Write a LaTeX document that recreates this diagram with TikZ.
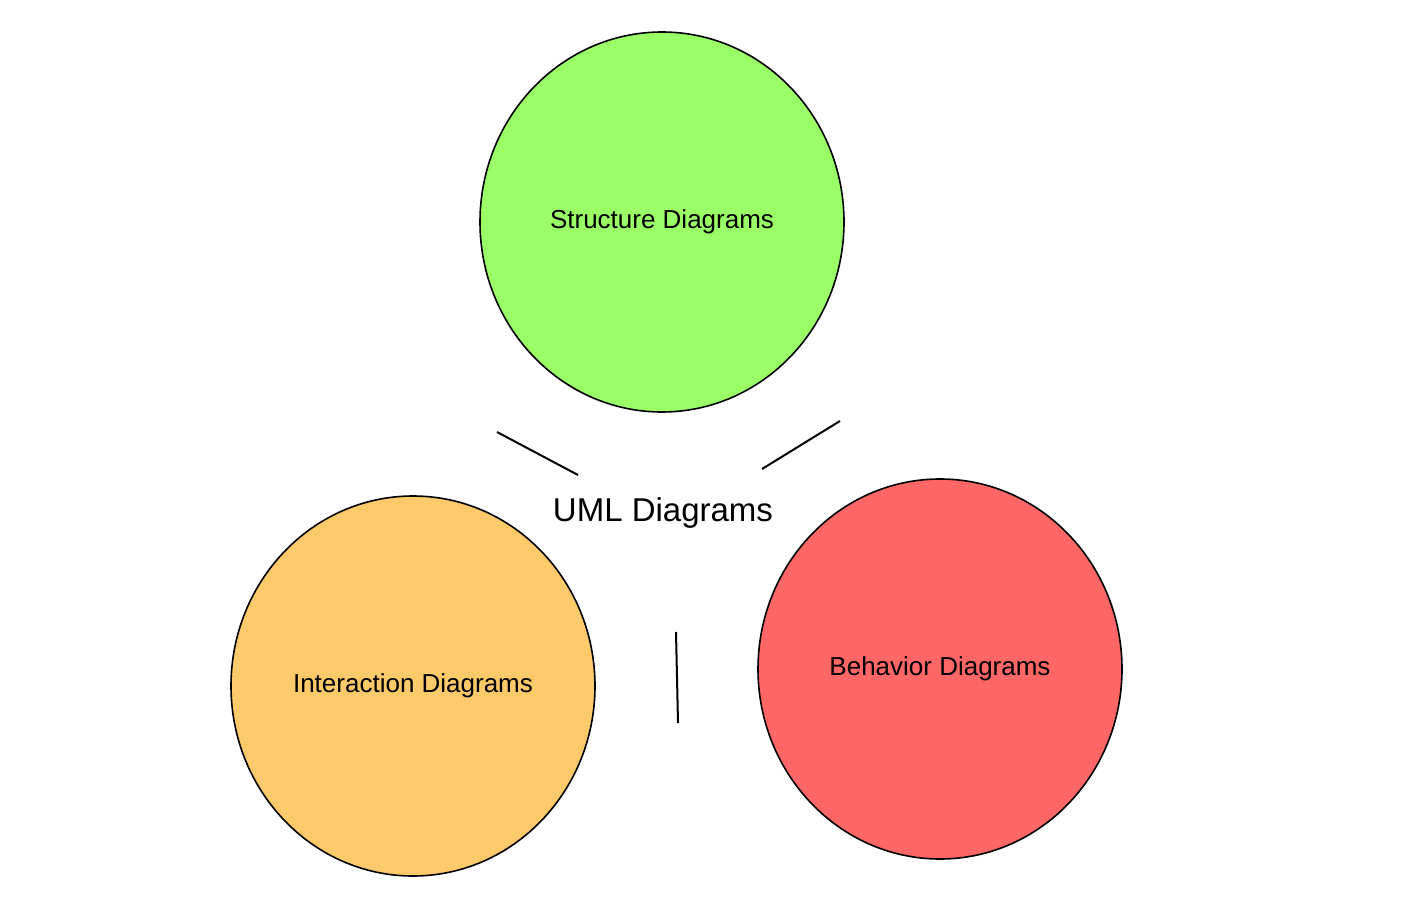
\documentclass[tikz,border=0pt]{standalone}
\usepackage{fontspec}
\setmainfont{Liberation Sans}
\usetikzlibrary{shapes.geometric}
\begin{document}
\begin{tikzpicture}[x=1pt,y=-1pt,
  blob/.style={ellipse,draw=black,line width=1.6pt,minimum width=364pt,minimum height=380pt,inner sep=0pt,font=\fontsize{26}{30}\selectfont},
  tick/.style={line width=2pt}]
\useasboundingbox (0,0) rectangle (1417,915);
\node[blob,fill={rgb,255:red,154;green,255;blue,102}] (s) at (662,222) {Structure Diagrams};
\node[blob,fill={rgb,255:red,253;green,202;blue,107}] (i) at (413,686) {Interaction Diagrams};
\node[blob,fill={rgb,255:red,255;green,102;blue,102}] (b) at (940,669) {Behavior Diagrams};
\node[font=\fontsize{33}{38}\selectfont] (u) at (663,513) {UML Diagrams};
\coordinate (a1) at (497,432); \coordinate (a2) at (578,475);
\coordinate (b1) at (840,421); \coordinate (b2) at (762,469);
\coordinate (c1) at (676,632); \coordinate (c2) at (678,723);
\draw[tick] (a1) -- (a2);
\draw[tick] (b1) -- (b2);
\draw[tick] (c1) -- (c2);
\end{tikzpicture}
\end{document}
